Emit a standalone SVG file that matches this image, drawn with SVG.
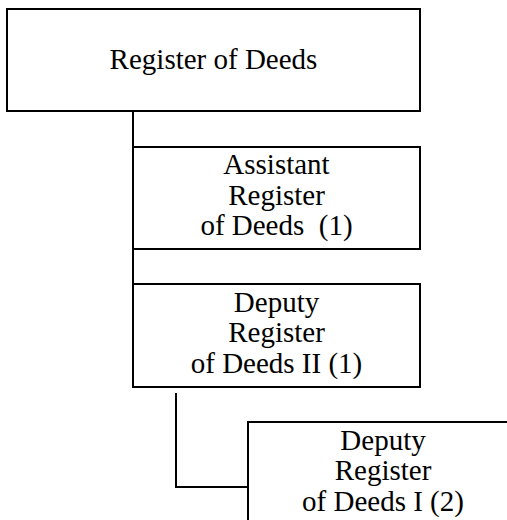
<svg xmlns="http://www.w3.org/2000/svg" width="507" height="520" viewBox="0 0 507 520">
<style>
.box{fill:#fff;stroke:#000;stroke-width:2}
.ln{fill:none;stroke:#000;stroke-width:2}
.t{font-size:29px;fill:#000;text-anchor:middle}
</style>
<rect width="507" height="520" fill="#fff"/>
<g id="connectors">
<line class="ln" x1="133" y1="111" x2="133" y2="147"/>
<line class="ln" x1="133" y1="249" x2="133" y2="284"/>
<polyline class="ln" points="176,393 176,487 248,487"/>
</g>
<g font-family="'Liberation Serif', 'DejaVu Serif', serif">
<g id="register-of-deeds">
<rect class="box" x="7" y="9" width="413" height="102"/>
<text class="t" x="213.5" y="69">Register of Deeds</text>
</g>
<g id="assistant-register">
<rect class="box" x="133" y="147" width="287" height="102"/>
<text class="t" x="276.5" y="174">Assistant</text>
<text class="t" x="276.5" y="204.5">Register</text>
<text class="t" x="276.5" y="235" xml:space="preserve">of Deeds  (1)</text>
</g>
<g id="deputy-register-ii">
<rect class="box" x="133" y="284" width="287" height="103"/>
<text class="t" x="276.5" y="311.5">Deputy</text>
<text class="t" x="276.5" y="342">Register</text>
<text class="t" x="276.5" y="372.5">of Deeds II (1)</text>
</g>
<g id="deputy-register-i">
<rect class="box" x="248" y="422" width="270" height="110"/>
<text class="t" x="383" y="449.5">Deputy</text>
<text class="t" x="383" y="480">Register</text>
<text class="t" x="383" y="510.5">of Deeds I (2)</text>
</g>
</g>
</svg>
